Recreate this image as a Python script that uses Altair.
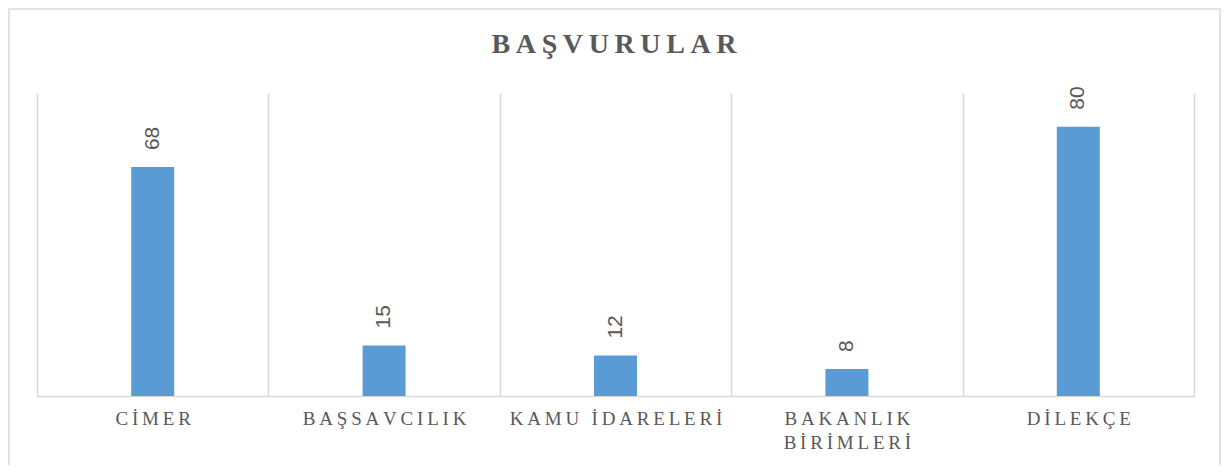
import altair as alt
import pandas as pd

categories = ["CİMER", "BAŞSAVCILIK", "KAMU İDARELERİ", "BAKANLIK\nBİRİMLERİ", "DİLEKÇE"]
values = [68, 15, 12, 8, 80]
title_text = "BAŞVURULAR"

THIN = "\u2009"


def spaced(s):
    return "\n".join(THIN.join(list(line)) for line in s.split("\n"))


df = pd.DataFrame({"cat": [spaced(c) for c in categories], "value": values})
order = list(df["cat"])

GRAY = "#595959"
LINE = "#d9d9d9"

x = alt.X(
    "cat:N",
    sort=order,
    scale=alt.Scale(paddingInner=0, paddingOuter=0),
    axis=alt.Axis(
        title=None,
        tickBand="extent",
        grid=True,
        gridColor=LINE,
        gridWidth=1.5,
        domainColor=LINE,
        domainWidth=1.5,
        ticks=False,
        labelAngle=0,
        labelFont="Liberation Serif",
        labelFontSize=19,
        labelColor=GRAY,
        labelPadding=13,
        labelLineHeight=24,
        labelBaseline="top",
        labelLimit=0,
        labelExpr="split(datum.label, '\\n')",
    ),
)
y = alt.Y("value:Q", scale=alt.Scale(domain=[0, 90], nice=False), axis=None)

base = alt.Chart(df)

bars = base.mark_bar(color="#5B9BD5", size=43).encode(x=x, y=y)

labels = base.mark_text(
    angle=270,
    align="left",
    baseline="middle",
    dx=17,
    font="Liberation Sans",
    fontSize=21,
    color=GRAY,
).encode(x=x, y=y, text="value:Q")

border = alt.Chart(alt.Data(values=[{}])).mark_rect(
    fill="transparent", stroke=LINE, strokeWidth=1.5
).encode(
    x=alt.value(-28),
    x2=alt.value(1183),
    y=alt.value(-84),
    y2=alt.value(420),
)

title = alt.Chart(alt.Data(values=[{"t": spaced(title_text)}])).mark_text(
    font="Liberation Serif",
    fontSize=28,
    fontWeight="bold",
    color=GRAY,
    align="center",
    baseline="alphabetic",
).encode(
    x=alt.value(577),
    y=alt.value(-40),
    text="t:N",
)

chart = (
    alt.layer(border, bars, labels, title)
    .properties(
        width=1157,
        height=303,
        autosize=alt.AutoSizeParams(type="none"),
        padding={"left": 29, "top": 85, "right": 27, "bottom": 69},
    )
    .configure_view(stroke=None)
)

chart.save("out.html", embed_options={"renderer": "svg", "actions": False})
